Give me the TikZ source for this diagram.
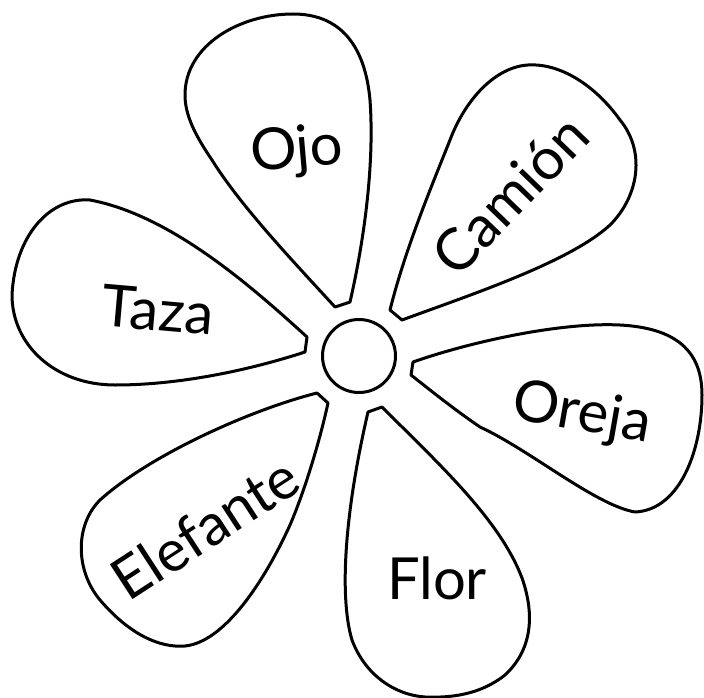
\documentclass[tikz,border=0pt]{standalone}
\usepackage{fontspec}
\setmainfont{Lato}
\tikzset{
  petal/.style={draw=black, line width=3pt, line join=round, fill=white},
  word/.style={font=\fontsize{58}{60}\selectfont, inner sep=0pt},
  hub/.style={draw=black, line width=3pt, circle, minimum size=73pt, inner sep=0pt}
}
\begin{document}
\begin{tikzpicture}[x=1pt,y=-1pt]
\useasboundingbox (0,0) rectangle (704,698);
% Ojo petal
\draw[petal] (335,307) -- (350,302)
  .. controls (362,250) and (375,170) .. (370,100)
  .. controls (365,45) and (340,14) .. (293,14)
  .. controls (240,14) and (185,45) .. (185,95)
  .. controls (185,115) and (195,135) .. (212,160)
  .. controls (240,205) and (290,258) .. (335,307) -- cycle;
% Camion petal
\draw[petal] (390,310) -- (402,320)
  .. controls (470,295) and (570,262) .. (610,225)
  .. controls (640,195) and (645,150) .. (620,120)
  .. controls (595,85) and (560,63) .. (528,65)
  .. controls (495,67) and (465,100) .. (450,140)
  .. controls (430,190) and (405,250) .. (390,310) -- cycle;
% Taza petal
\draw[petal] (307,337)
  .. controls (250,285) and (170,215) .. (90,200)
  .. controls (50,197) and (15,235) .. (12,295)
  .. controls (12,345) and (55,385) .. (115,385)
  .. controls (180,385) and (250,370) .. (305,352) -- cycle;
% Oreja petal
\draw[petal] (413,362)
  .. controls (470,342) and (560,322) .. (620,325)
  .. controls (675,328) and (702,350) .. (702,395)
  .. controls (702,450) and (680,510) .. (635,512)
  .. controls (595,505) and (530,450) .. (480,427)
  .. controls (455,410) and (430,390) .. (411,375) -- cycle;
% Flor petal
\draw[petal] (368,412) -- (382,407)
  .. controls (440,465) and (500,520) .. (522,578)
  .. controls (535,615) and (532,650) .. (505,675)
  .. controls (480,695) and (450,698) .. (425,697)
  .. controls (395,695) and (365,675) .. (352,640)
  .. controls (340,600) and (343,520) .. (368,412) -- cycle;
% Elefante petal
\draw[petal] (317,393)
  .. controls (250,410) and (150,455) .. (100,500)
  .. controls (75,525) and (75,570) .. (100,600)
  .. controls (130,635) and (160,648) .. (185,646)
  .. controls (225,642) and (265,580) .. (290,525)
  .. controls (305,490) and (320,440) .. (328,403) -- cycle;
% centre
\node[hub] (hub) at (359,356) {};
% words
\node[word, rotate=5] (ojo) at (297,152) {Ojo};
\node[word, rotate=46] (camion) at (510,195) {Camión};
\node[word, rotate=-5] (taza) at (158,310) {Taza};
\node[word, rotate=-10] (oreja) at (582,415) {Oreja};
\node[word, rotate=33] (elefante) at (205,528) {Elefante};
\node[word] (flor) at (437,578) {Flor};
\end{tikzpicture}
\end{document}
